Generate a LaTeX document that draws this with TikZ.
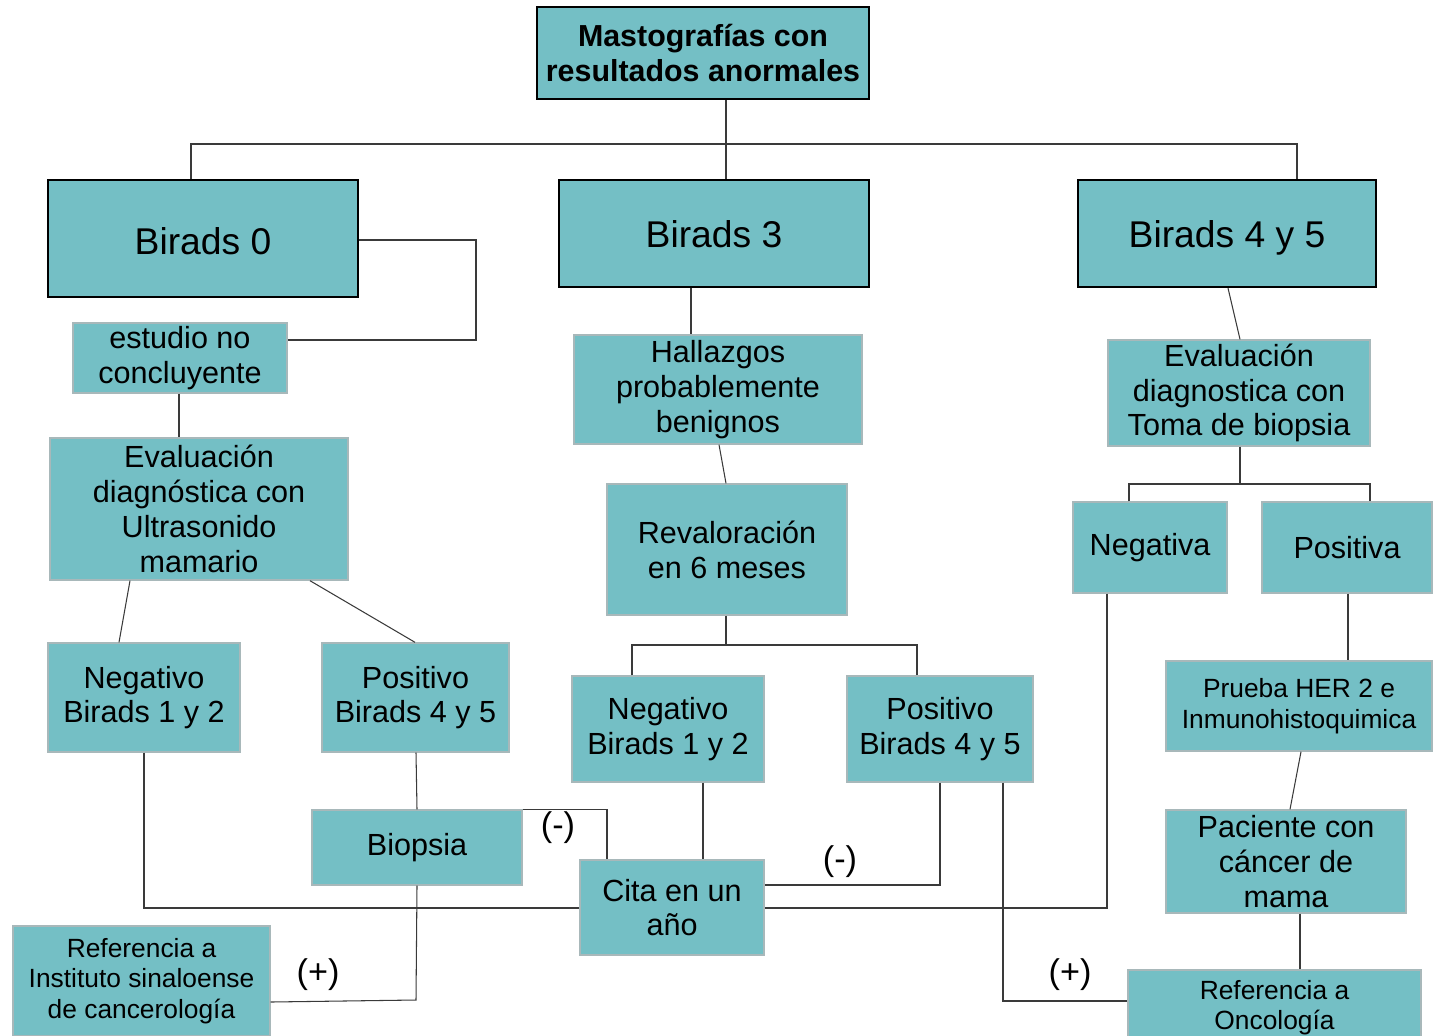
\documentclass[tikz,border=0pt]{standalone}
\usepackage{fontspec}
\setmainfont{Liberation Sans}
\usetikzlibrary{calc}
\definecolor{teal1}{HTML}{74BFC5}
\definecolor{lbord}{HTML}{A8B8BA}
\definecolor{lcol}{HTML}{3A3A3A}
\tikzset{
  mainbox/.style={draw=black, line width=1.3pt, fill=teal1, align=center, inner sep=0pt},
  subbox/.style={draw=lbord, line width=0.8pt, fill=teal1, align=center, inner sep=0pt},
  bigtxt/.style={font=\fontsize{21.2}{24}\selectfont},
  midtxt/.style={font=\fontsize{17.4}{19.8}\selectfont},
  smalltxt/.style={font=\fontsize{15}{17.3}\selectfont},
  conn/.style={draw=lcol, line width=0.6pt},
  sign/.style={font=\fontsize{19.5}{22}\selectfont, inner sep=0pt}
}
\begin{document}
\begin{tikzpicture}[x=0.02cm, y=-0.02cm]
\useasboundingbox (0,0) rectangle (1435,1035);
\begin{scope}
\clip (0,0) rectangle (1435,1035);
% main boxes
\node[mainbox, minimum width=6.64cm, minimum height=1.84cm, font=\bfseries\fontsize{17.3}{19.8}\selectfont] (top) at (703,53) {Mastografías con\\resultados anormales};
\node[mainbox, bigtxt, minimum width=6.2cm, minimum height=2.34cm, text height=18.3pt, text depth=0pt] (b0) at (203,238.5) {Birads 0};
\node[mainbox, bigtxt, minimum width=6.2cm, minimum height=2.14cm, text height=16pt, text depth=0pt] (b3) at (714,233.5) {Birads 3};
\node[mainbox, bigtxt, minimum width=5.96cm, minimum height=2.14cm, text height=16pt, text depth=0pt] (b45) at (1227,233.5) {Birads 4 y 5};
% left branch
\node[subbox, midtxt, minimum width=4.28cm, minimum height=1.4cm] (est) at (180,358) {estudio no\\concluyente};
\node[subbox, midtxt, minimum width=5.96cm, minimum height=2.84cm] (evu) at (199,509) {Evaluación\\diagnóstica con\\Ultrasonido\\mamario};
\node[subbox, midtxt, minimum width=3.84cm, minimum height=2.18cm] (negL) at (144,697.5) {Negativo\\Birads 1 y 2};
\node[subbox, midtxt, minimum width=3.74cm, minimum height=2.18cm] (posL) at (415.5,697.5) {Positivo\\Birads 4 y 5};
\node[subbox, midtxt, minimum width=4.2cm, minimum height=1.5cm] (bio) at (417,847.5) {Biopsia};
\node[subbox, smalltxt, minimum width=5.14cm, minimum height=2.2cm] (refI) at (141.5,981) {Referencia a\\Instituto sinaloense\\de cancerología};
% middle branch
\node[subbox, midtxt, minimum width=5.76cm, minimum height=2.18cm] (hal) at (718,389.5) {Hallazgos\\probablemente\\benignos};
\node[subbox, midtxt, minimum width=4.8cm, minimum height=2.62cm] (rev) at (727,549.5) {Revaloración\\en 6 meses};
\node[subbox, midtxt, minimum width=3.84cm, minimum height=2.12cm] (negM) at (668,729) {Negativo\\Birads 1 y 2};
\node[subbox, midtxt, minimum width=3.72cm, minimum height=2.12cm] (posM) at (940,729) {Positivo\\Birads 4 y 5};
\node[subbox, midtxt, minimum width=3.68cm, minimum height=1.9cm] (cita) at (672,907.5) {Cita en un\\año};
% right branch
\node[subbox, midtxt, minimum width=5.24cm, minimum height=2.12cm] (evt) at (1239,393) {Evaluación\\diagnostica con\\Toma de biopsia};
\node[subbox, midtxt, minimum width=3.08cm, minimum height=1.82cm] (nega) at (1150,547.5) {Negativa};
\node[subbox, midtxt, minimum width=3.4cm, minimum height=1.82cm] (posi) at (1347,547.5) {Positiva};
\node[subbox, smalltxt, minimum width=5.32cm, minimum height=1.8cm] (pru) at (1299,706) {Prueba HER 2 e\\Inmunohistoquimica};
\node[subbox, midtxt, minimum width=4.8cm, minimum height=2.06cm] (pac) at (1286,861.5) {Paciente con\\cáncer de\\mama};
\node[subbox, smalltxt, minimum width=5.86cm, minimum height=1.4cm, text depth=0pt] (refO) at (1274.5,1005) {Referencia a\\Oncología};
\end{scope}
% connectors
\draw[conn] (726,0 |- top.south) -- (726,0 |- b3.north);
\draw[conn] (191,0 |- b0.north) -- (191,144) -- (1297,144) -- (1297,0 |- b45.north);
\draw[conn] (b0.east |- 0,240) -- (476,240) -- (476,340) -- (est.east |- 0,340);
\draw[conn] (179,0 |- est.south) -- (179,0 |- evu.north);
\draw[conn] (130,0 |- evu.south) -- (119,0 |- negL.north);
\draw[conn] (310,0 |- evu.south) -- (415,0 |- posL.north);
\draw[conn] (416,0 |- posL.south) -- (417,0 |- bio.north);
\draw[conn] (bio.north east) -- (607,0 |- bio.north) -- (607,0 |- cita.north);
\draw[conn] (144,0 |- negL.south) -- (144,908) -- (cita.west |- 0,908);
\draw[conn] (417,0 |- bio.south) -- (416,1000) -- (refI.east |- 0,1002);
\draw[conn] (691,0 |- b3.south) -- (691,0 |- hal.north);
\draw[conn] (719,0 |- hal.south) -- (726,0 |- rev.north);
\draw[conn] (726,0 |- rev.south) -- (726,645);
\draw[conn] (632,0 |- negM.north) -- (632,645) -- (917,645) -- (917,0 |- posM.north);
\draw[conn] (703,0 |- negM.south) -- (703,0 |- cita.north);
\draw[conn] (940,0 |- posM.south) -- (940,885) -- (cita.east |- 0,885);
\draw[conn] (1003,0 |- posM.south) -- (1003,1001) -- (refO.west |- 0,1001);
\draw[conn] (1107,0 |- nega.south) -- (1107,908) -- (cita.east |- 0,908);
\draw[conn] (1228,0 |- b45.south) -- (1240,0 |- evt.north);
\draw[conn] (1240,0 |- evt.south) -- (1240,484);
\draw[conn] (1129,0 |- nega.north) -- (1129,484) -- (1370,484) -- (1370,0 |- posi.north);
\draw[conn] (1348,0 |- posi.south) -- (1348,0 |- pru.north);
\draw[conn] (1301,0 |- pru.south) -- (1290,0 |- pac.north);
\draw[conn] (1300,0 |- pac.south) -- (1300,0 |- refO.north);
% signs
\node[sign] (s1) at (558,828) {(-)};
\node[sign] (s2) at (840,862) {(-)};
\node[sign] (s3) at (318,975) {(+)};
\node[sign] (s4) at (1070,975) {(+)};
\end{tikzpicture}
\end{document}
